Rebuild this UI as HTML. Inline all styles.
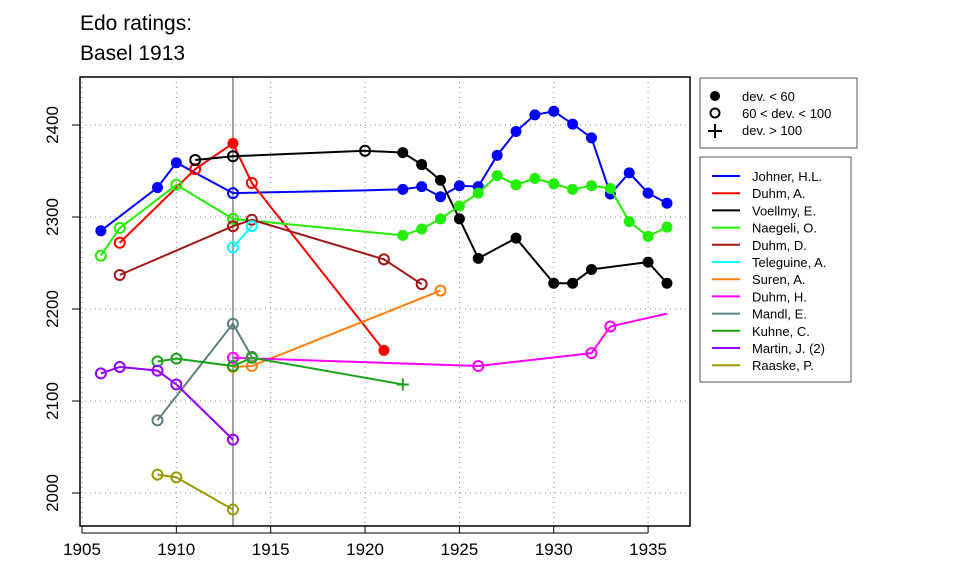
<!DOCTYPE html>
<html><head><meta charset="utf-8"><style>
body{margin:0;background:#fff}
svg{display:block;font-family:"Liberation Sans",Arial,sans-serif}
</style></head><body>
<svg id="chart" width="960" height="576">
<text x="80" y="30" font-size="21">Edo ratings:</text>
<text x="80" y="60" font-size="21">Basel 1913</text>
<g id="grid"></g>
<g id="axes"></g>
<g id="series"></g>
<rect x="80" y="77" width="610" height="449" fill="none" stroke="#000" stroke-width="1.5"/>
<g>
<rect x="700" y="78" width="157" height="70" fill="#fff" stroke="#555"/>
<circle cx="715" cy="96" r="5" fill="#000"/>
<text x="742" y="101" font-size="13">dev. &lt; 60</text>
<circle cx="715" cy="113" r="4.5" fill="none" stroke="#000" stroke-width="2"/>
<text x="742" y="118" font-size="13">60 &lt; dev. &lt; 100</text>
<path d="M708 131H722M715 124V138" stroke="#000" stroke-width="2"/>
<text x="742" y="135" font-size="13">dev. &gt; 100</text>
</g>
<g id="legend">
<rect x="700" y="157" width="151" height="225" fill="#fff" stroke="#555"/>
</g>
</svg>
<script>
const names=["Johner, H.L.","Duhm, A.","Voellmy, E.","Naegeli, O.","Duhm, D.","Teleguine, A.","Suren, A.","Duhm, H.","Mandl, E.","Kuhne, C.","Martin, J. (2)","Raaske, P."];
const colors=["#0000ff","#ff0000","#000000","#22ee00","#a01818","#00ffff","#ff7f0e","#ff00ff","#5f7f7f","#1aa31a","#9400ff","#9a9a00"];
const johnerYears=[1906,1909,1910,1913,1920,1922,1923,1924,1925,1926,1927,1928,1929,1930,1931,1932,1933,1934,1935,1936];
const johnerVals=[2285,2332,2359,2326,2329,2330,2333,2322,2334,2333,2367,2393,2411,2415,2401,2386,2325,2348,2326,2315];
const johnerMk="ffforfffffffffffffff";
const duhmAYears=[1907,1911,1913,1914,1921];
const duhmAVals=[2272,2352,2380,2337,2155];
const duhmAMk="oofof";
const voellmyYears=[1911,1913,1920,1922,1923,1924,1925,1926,1928,1930,1931,1932,1935,1936];
const voellmyVals=[2362,2366,2372,2370,2357,2340,2298,2255,2277,2228,2228,2243,2251,2228];
const voellmyMk="ooofffffffffff";
const naegeliYears=[1906,1907,1910,1913,1922,1923,1924,1925,1926,1927,1928,1929,1930,1931,1932,1933,1934,1935,1936];
const naegeliVals=[2258,2288,2335,2298,2280,2287,2298,2312,2326,2345,2335,2342,2336,2330,2334,2331,2295,2279,2289];
const naegeliMk="oooofffffffffffffff";
const duhmDYears=[1907,1913,1914,1921,1923];
const duhmDVals=[2237,2290,2297,2254,2227];
const duhmDMk="ooooo";
const teleguineYears=[1913,1914];
const teleguineVals=[2267,2290];
const teleguineMk="oo";
const surenYears=[1913,1914,1924];
const surenVals=[2137,2138,2220];
const surenMk="ooo";
const duhmHYears=[1913,1926,1932,1933,1936];
const duhmHVals=[2147,2138,2152,2181,2195];
const duhmHMk="oooon";
const mandlYears=[1909,1913,1914];
const mandlVals=[2079,2184,2148];
const mandlMk="ooo";
const kuhneYears=[1909,1910,1913,1914,1922];
const kuhneVals=[2143,2146,2138,2147,2118];
const kuhneMk="oooop";
const martinYears=[1906,1907,1909,1910,1913];
const martinVals=[2130,2137,2133,2118,2058];
const martinMk="ooooo";
const raaskeYears=[1909,1910,1913];
const raaskeVals=[2020,2017,1982];
const raaskeMk="ooo";
const xTicks=[1905,1910,1915,1920,1925,1930,1935];
const yTicks=[2000,2100,2200,2300,2400];
const markYear=1913;

const seriesYears=[johnerYears,duhmAYears,voellmyYears,naegeliYears,duhmDYears,teleguineYears,surenYears,duhmHYears,mandlYears,kuhneYears,martinYears,raaskeYears];
const seriesVals=[johnerVals,duhmAVals,voellmyVals,naegeliVals,duhmDVals,teleguineVals,surenVals,duhmHVals,mandlVals,kuhneVals,martinVals,raaskeVals];
const seriesMk=[johnerMk,duhmAMk,voellmyMk,naegeliMk,duhmDMk,teleguineMk,surenMk,duhmHMk,mandlMk,kuhneMk,martinMk,raaskeMk];

const NS="http://www.w3.org/2000/svg";
const X=y=>82+(y-1905)*18.87;
const Y=v=>125+(2400-v)*0.92;
function mk(tag,attrs,parent){const e=document.createElementNS(NS,tag);for(const k in attrs)e.setAttribute(k,attrs[k]);parent.appendChild(e);return e;}
const grid=document.getElementById('grid'),axes=document.getElementById('axes'),ser=document.getElementById('series'),leg=document.getElementById('legend');
xTicks.forEach(t=>{
  const l=mk('line',{x1:X(t),x2:X(t),y1:77,y2:526,stroke:'#888','stroke-dasharray':'1 4'},grid);
  
  
  const tk=mk('line',{x1:X(t),x2:X(t),y1:526,y2:533,stroke:'#000'},axes);
  
  
  const tx=mk('text',{x:X(t),y:555,'font-size':17,'text-anchor':'middle'},axes);
  tx.textContent=t;
  
  
});
mk('line',{x1:X(1905),x2:X(1935),y1:533,y2:533,stroke:'#000'},axes);
yTicks.forEach(t=>{
  const l=mk('line',{x1:80,x2:690,y1:Y(t),y2:Y(t),stroke:'#888','stroke-dasharray':'1 4'},grid);
  
  
  const tk=mk('line',{x1:72,x2:80,y1:Y(t),y2:Y(t),stroke:'#000'},axes);
  
  
  const tx=mk('text',{x:58,y:Y(t),'font-size':17,'text-anchor':'middle',transform:`rotate(-90 58 ${Y(t)})`},axes);
  tx.textContent=t;
  
  
});
const vl=mk('line',{x1:X(markYear),x2:X(markYear),y1:77,y2:526,stroke:'#666','stroke-width':1.2},grid);


seriesYears.forEach((ys,i)=>{
  const g=mk('g',{},ser);
  
  
  const pl=mk('polyline',{points:ys.map((y,j)=>X(y)+','+Y(seriesVals[i][j])).join(' '),fill:'none',stroke:colors[i],'stroke-width':2},g);
  
  
  ys.forEach((y,j)=>{
    const cx=X(y),cy=Y(seriesVals[i][j]),m=seriesMk[i][j];let e;
    if(m==='f')e=mk('circle',{cx,cy,r:5.5,fill:colors[i]},g);
    else if(m==='o')e=mk('circle',{cx,cy,r:5,fill:'none',stroke:colors[i],'stroke-width':2},g);
    else if(m==='p')e=mk('path',{d:`M${cx-6} ${cy}H${cx+6}M${cx} ${cy-6}V${cy+6}`,stroke:colors[i],'stroke-width':2},g);
    else return;
    
    
  });
});
names.forEach((n,i)=>{
  const yy=176+i*17.2;
  const l=mk('line',{x1:712,x2:740,y1:yy,y2:yy,stroke:colors[i],'stroke-width':2},leg);
  
  
  const t=mk('text',{x:752,y:yy+5,'font-size':13},leg);
  t.textContent=n;
  
  
});
</script>
</body></html>
